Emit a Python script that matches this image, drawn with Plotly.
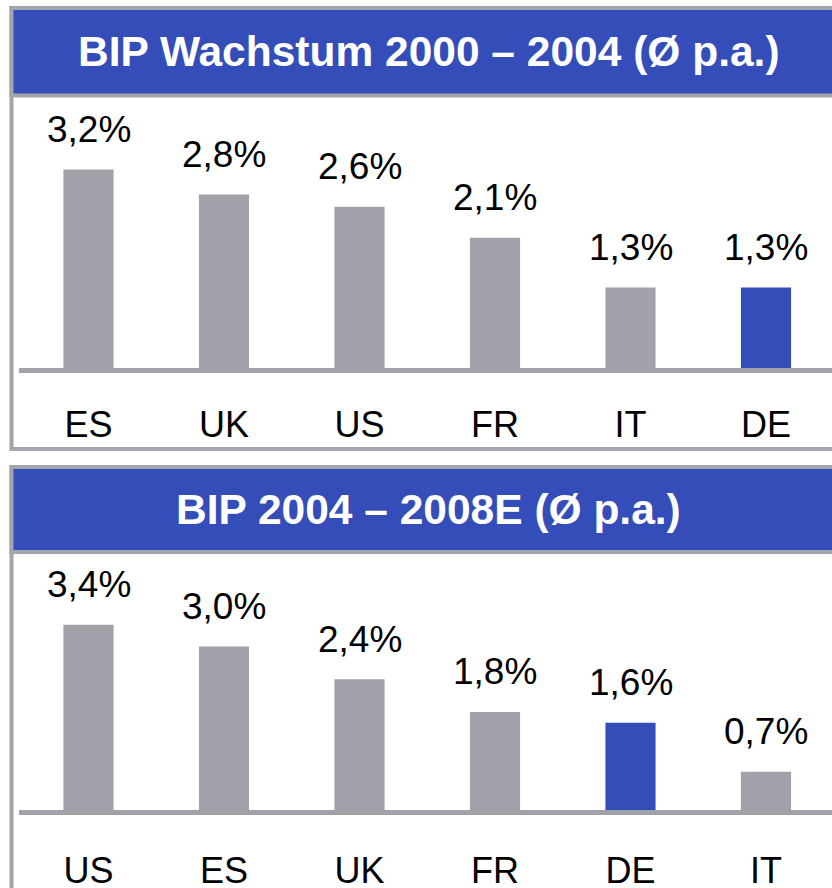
import plotly.graph_objects as go

# ---- data ----
title_1 = "BIP Wachstum 2000 – 2004 (Ø p.a.)"
categories_1 = ["ES", "UK", "US", "FR", "IT", "DE"]
values_1 = [3.2, 2.8, 2.6, 2.1, 1.3, 1.3]
labels_1 = ["3,2%", "2,8%", "2,6%", "2,1%", "1,3%", "1,3%"]

title_2 = "BIP 2004 – 2008E (Ø p.a.)"
categories_2 = ["US", "ES", "UK", "FR", "DE", "IT"]
values_2 = [3.4, 3.0, 2.4, 1.8, 1.6, 0.7]
labels_2 = ["3,4%", "3,0%", "2,4%", "1,8%", "1,6%", "0,7%"]

highlight = "DE"

# ---- style ----
W, H = 832, 888
BLUE = "#344DB8"
GRAY = "#A1A1A9"
BORDER = "#A4A4AC"
FONT = "Liberation Sans, Arial, sans-serif"


def px(x):
    return x / W


def py(y):
    return 1 - y / H


fig = go.Figure()

panels = [
    dict(cats=categories_1, vals=values_1, labs=labels_1, title=title_1,
         xa="x", ya="y", top=6, head_bot=95.5, base=368, ytop=100, scale=62.0, bottom=449,
         standoff=32),
    dict(cats=categories_2, vals=values_2, labs=labels_2, title=title_2,
         xa="x2", ya="y2", top=465, head_bot=552, base=810, ytop=556, scale=54.5, bottom=None,
         standoff=36),
]

# category positions: first center at 88.5 px, spacing 135.5 px
step = 135.5
r0 = -88.5 / step
r1 = r0 + W / step

shapes = []
annotations = []
for i, p in enumerate(panels):
    colors = [BLUE if c == highlight else GRAY for c in p["cats"]]
    fig.add_trace(go.Bar(
        x=p["cats"], y=p["vals"], marker=dict(color=colors, line=dict(width=0)),
        width=0.37, xaxis=p["xa"], yaxis=p["ya"], showlegend=False, hoverinfo="skip",
    ))
    for c, v, t in zip(p["cats"], p["vals"], p["labs"]):
        annotations.append(dict(
            x=c, y=v, xref=p["xa"], yref=p["ya"], text=t, showarrow=False,
            yanchor="middle", yshift=40, font=dict(family=FONT, size=37, color="#000000"),
        ))
    # panel outline
    bot = p["bottom"] if p["bottom"] is not None else H + 10
    shapes.append(dict(type="rect", xref="paper", yref="paper",
                       x0=px(11.5), x1=px(W + 10), y0=py(bot), y1=py(p["top"] + 2),
                       line=dict(color=BORDER, width=4), fillcolor="rgba(0,0,0,0)", layer="below"))
    # header
    shapes.append(dict(type="rect", xref="paper", yref="paper",
                       x0=px(11.5), x1=px(W + 10), y0=py(p["head_bot"]), y1=py(p["top"] + 2),
                       line=dict(color=BORDER, width=4), fillcolor=BLUE, layer="below"))
    # baseline
    shapes.append(dict(type="line", xref="paper", yref="paper",
                       x0=px(19), x1=px(W + 5), y0=py(p["base"] + 2.5), y1=py(p["base"] + 2.5),
                       line=dict(color=GRAY, width=5), layer="above"))
    annotations.append(dict(
        x=px(428.5), y=py((p["top"] + 2 + p["head_bot"]) / 2), xref="paper", yref="paper",
        text="<b>%s</b>" % p["title"], showarrow=False, xanchor="center", yanchor="middle",
        font=dict(family=FONT, size=42.5, color="#FFFFFF"),
    ))

    ymax = (p["base"] - p["ytop"]) / p["scale"]
    xkey = "xaxis" if i == 0 else "xaxis2"
    ykey = "yaxis" if i == 0 else "yaxis2"
    fig.update_layout(**{
        xkey: dict(domain=[0, 1], range=[r0, r1], anchor=p["ya"], showgrid=False,
                   zeroline=False, showline=False, ticks="", type="category",
                   tickfont=dict(family=FONT, size=36, color="#000000"),
                   ticklabelstandoff=p["standoff"], fixedrange=True),
        ykey: dict(domain=[py(p["base"]), py(p["ytop"])], range=[0, ymax], anchor=p["xa"],
                   visible=False, fixedrange=True),
    })

fig.update_layout(
    width=W, height=H, margin=dict(l=0, r=0, t=0, b=0, autoexpand=False),
    paper_bgcolor="#FFFFFF", plot_bgcolor="rgba(0,0,0,0)",
    shapes=shapes, annotations=annotations, bargap=0.63,
)

fig.write_html("out.html", config={"displayModeBar": False},
               post_script="document.body.style.margin='0px';document.body.style.overflow='hidden';")
